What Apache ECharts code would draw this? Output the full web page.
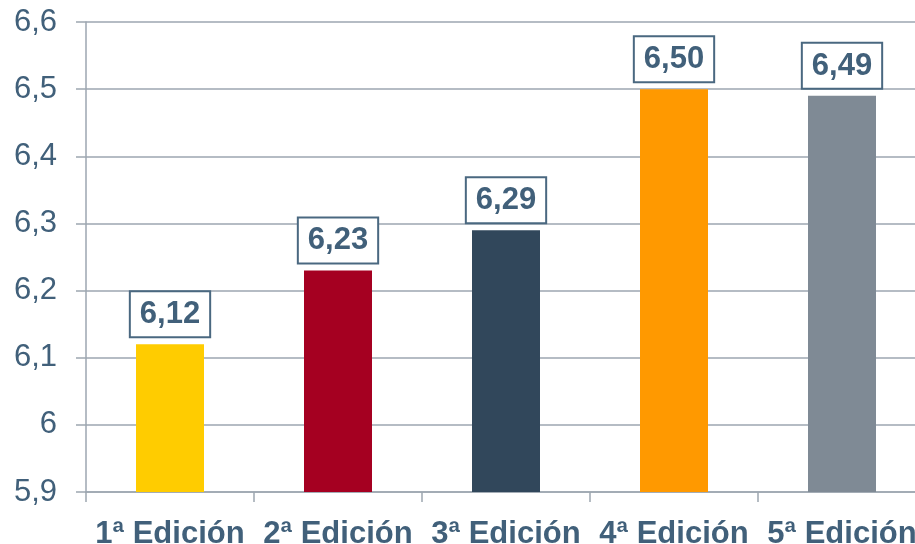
<!DOCTYPE html>
<html><head><meta charset="utf-8">
<script src="https://cdn.jsdelivr.net/npm/echarts@6/dist/echarts.min.js"></script>
<style>html,body{margin:0;padding:0;background:#fff}#c{width:915px;height:544px}</style>
</head><body><div id="c"></div>
<script>
const categories = ['1ª Edición', '2ª Edición', '3ª Edición', '4ª Edición', '5ª Edición'];
const values = [6.12, 6.23, 6.29, 6.50, 6.49];
const barColors = ['#FFCC00', '#A50021', '#31475B', '#FF9900', '#7F8A95'];
const yTickLabels = ['5,9', '6', '6,1', '6,2', '6,3', '6,4', '6,5', '6,6'];
const valueLabels = ['6,12', '6,23', '6,29', '6,50', '6,49'];

const textColor = '#41607A';
const lineColor = '#9DA6B0';
const font = '"Liberation Sans", Arial, sans-serif';

const chart = echarts.init(document.getElementById('c'));
chart.setOption({
  animation: false,
  grid: { left: 86, top: 22, bottom: 52, width: 840, containLabel: false, outerBoundsMode: 'none' },
  xAxis: {
    type: 'category',
    data: categories,
    axisLine: { lineStyle: { color: lineColor, width: 1.5 } },
    axisTick: { show: true, length: 10, lineStyle: { color: lineColor, width: 1.5 } },
    axisLabel: { color: textColor, fontSize: 31, fontWeight: 'bold', fontFamily: font, margin: 27, interval: 0 }
  },
  yAxis: {
    type: 'value',
    min: 5.9, max: 6.6, interval: 0.1,
    axisLine: { show: true, lineStyle: { color: lineColor, width: 1.5 } },
    axisTick: { show: true, length: 10, lineStyle: { color: lineColor, width: 1.5 } },
    splitLine: { show: true, lineStyle: { color: lineColor, width: 1.5 } },
    axisLabel: {
      color: textColor, fontSize: 31, fontFamily: font, margin: 29,
      formatter: function (v) { return yTickLabels[Math.round((v - 5.9) / 0.1)]; }
    }
  },
  series: [{
    type: 'bar',
    barWidth: 68,
    data: values.map((v, i) => ({ value: v, itemStyle: { color: barColors[i] } })),
    label: {
      show: true, position: 'top', distance: 8,
      formatter: function (p) { return valueLabels[p.dataIndex]; },
      color: textColor, fontSize: 31, fontWeight: 'bold', fontFamily: font,
      backgroundColor: '#fff', borderColor: '#4A6880', borderWidth: 2,
      padding: [6, 9, 5, 9], lineHeight: 33
    }
  }]
});
</script></body></html>
